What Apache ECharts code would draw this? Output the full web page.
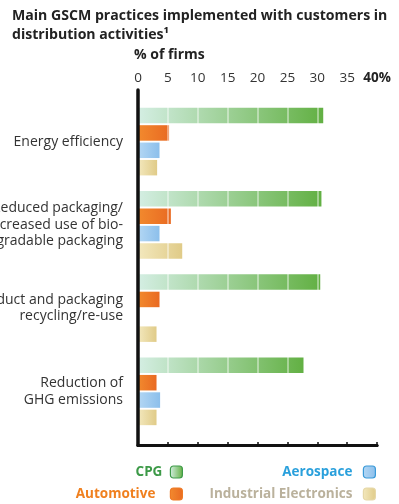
<!DOCTYPE html>
<html>
<head>
<meta charset="utf-8">
<script src="https://cdn.jsdelivr.net/npm/echarts@6/dist/echarts.min.js"></script>
<style>
  html, body { margin: 0; padding: 0; background: #ffffff; }
  #chart { width: 399px; height: 504px; }
</style>
</head>
<body>
<div id="chart"></div>
<script>
// Practices (one group of bars each)
const categories = [
  'Energy efficiency',
  'Reduced packaging/\nincreased use of bio-\ndegradable packaging',
  'Product and packaging\nrecycling/re-use',
  'Reduction of\nGHG emissions'
];
// Share of firms (%) per industry
const cpg        = [31.0, 30.7, 30.5, 27.7];
const automotive = [5.2, 5.5, 3.6, 3.1];
const aerospace  = [3.6, 3.6, null, 3.7];
const industrial = [3.2, 7.4, 3.1, 3.1];
// Top axis tick labels
const tickLabels = ['0', '5', '10', '15', '20', '25', '30', '35', '40%'];

const FONT = 'Open Sans';
const grad = (a, b) => new echarts.graphic.LinearGradient(0, 0, 1, 0, [
  { offset: 0, color: a }, { offset: 1, color: b }
]);

const colors = {
  cpg: grad('#d4eee3', '#62b043'),
  automotive: grad('#f28a2e', '#e96a22'),
  aerospace: grad('#b3d7f4', '#8cbfeb'),
  industrial: grad('#f3e8bd', '#e0cb88')
};

const L = 138, R = 22;

const chart = echarts.init(document.getElementById('chart'), null, { renderer: 'canvas' });

function legendAt(name, color, border, textColor, right, top, gap) {
  return {
    data: [{ name: name, itemStyle: { color: color, borderColor: border, borderWidth: 1.2 } }],
    right: right, top: top, padding: 0,
    align: 'right', orient: 'horizontal',
    itemWidth: 12, itemHeight: 12,
    selectedMode: false,
    textStyle: { color: textColor, fontFamily: FONT, fontWeight: 'bold', fontSize: 13.5, padding: [0, gap, 0, 0] }
  };
}

const option = {
  backgroundColor: '#ffffff',
  animation: false,
  title: [
    {
      text: 'Main GSCM practices implemented with customers in\ndistribution activities\u00b9',
      left: 12, top: 6, padding: 0,
      textStyle: { fontFamily: FONT, fontWeight: 'bold', fontSize: 14.1, lineHeight: 19, color: '#222' }
    },
    {
      text: '% of firms',
      left: 134, top: 48, padding: 0,
      textStyle: { fontFamily: FONT, fontWeight: 'bold', fontSize: 14, color: '#222' }
    }
  ],
  legend: [
    legendAt('CPG', colors.cpg, '#3f9b4a', '#3d9a48', 216, 465, 3),
    legendAt('Automotive', colors.automotive, '#ee7a25', '#f0801f', 216, 487, 10),
    legendAt('Aerospace', colors.aerospace, '#3a9ad8', '#2aa0dc', 23, 465, 6),
    legendAt('Industrial Electronics', colors.industrial, '#e6d8a8', '#bab19c', 23, 487, 6)
  ],
  grid: [
    { left: L, right: R, top: 90, bottom: 59, outerBoundsMode: 'none' },   // frame with the % scale
    { left: L, right: R, top: 100, bottom: 71, outerBoundsMode: 'none' }   // bars
  ],
  xAxis: [
    {
      gridIndex: 0, type: 'value', position: 'top', min: 0, max: 40, interval: 5, z: 3,
      axisLine: { show: true, lineStyle: { color: '#111', width: 3 } },
      axisTick: { show: true, inside: false, length: 3, lineStyle: { color: '#111', width: 1.5 } },
      axisLabel: {
        margin: 5, color: '#333', fontFamily: FONT, fontSize: 13.5,
        formatter: (v) => {
          const t = tickLabels[Math.round(v / 5)];
          return v === 40 ? '{b|' + t + '}' : t;
        },
        rich: { b: { fontWeight: 'bold', fontFamily: FONT, fontSize: 13.5, color: '#222' } }
      },
      splitLine: { show: true, lineStyle: { color: 'rgba(255,255,255,0.55)', width: 1.5 } }
    },
    {
      gridIndex: 0, type: 'value', position: 'bottom', min: 0, max: 40, z: 3,
      axisLine: { show: true, lineStyle: { color: '#111', width: 3 } },
      axisTick: { show: false }, axisLabel: { show: false }, splitLine: { show: false }
    },
    {
      gridIndex: 1, type: 'value', min: 0, max: 40, show: false
    }
  ],
  yAxis: [
    {
      gridIndex: 0, type: 'value', min: 0, max: 1, z: 3,
      axisLine: { show: true, lineStyle: { color: '#111', width: 3.5 } },
      axisTick: { show: false }, axisLabel: { show: false }, splitLine: { show: false }
    },
    {
      gridIndex: 1, type: 'category', inverse: true,
      data: categories.map((c, i) => i === 2 ? { value: c, textStyle: { padding: [0, 0, 32, 0] } } : c),
      axisLine: { show: false }, axisTick: { show: false },
      axisLabel: { margin: 15, color: '#333', fontFamily: FONT, fontSize: 14, lineHeight: 16.5, align: 'right' }
    }
  ],
  series: [
    { name: 'CPG', data: cpg, itemStyle: { color: colors.cpg } },
    { name: 'Automotive', data: automotive, itemStyle: { color: colors.automotive } },
    { name: 'Aerospace', data: aerospace, itemStyle: { color: colors.aerospace } },
    { name: 'Industrial Electronics', data: industrial, itemStyle: { color: colors.industrial } }
  ].map(s => Object.assign({
    type: 'bar', xAxisIndex: 2, yAxisIndex: 1,
    barWidth: 15.5, barGap: '12%'
  }, s))
};

chart.setOption(option);
</script>
</body>
</html>
